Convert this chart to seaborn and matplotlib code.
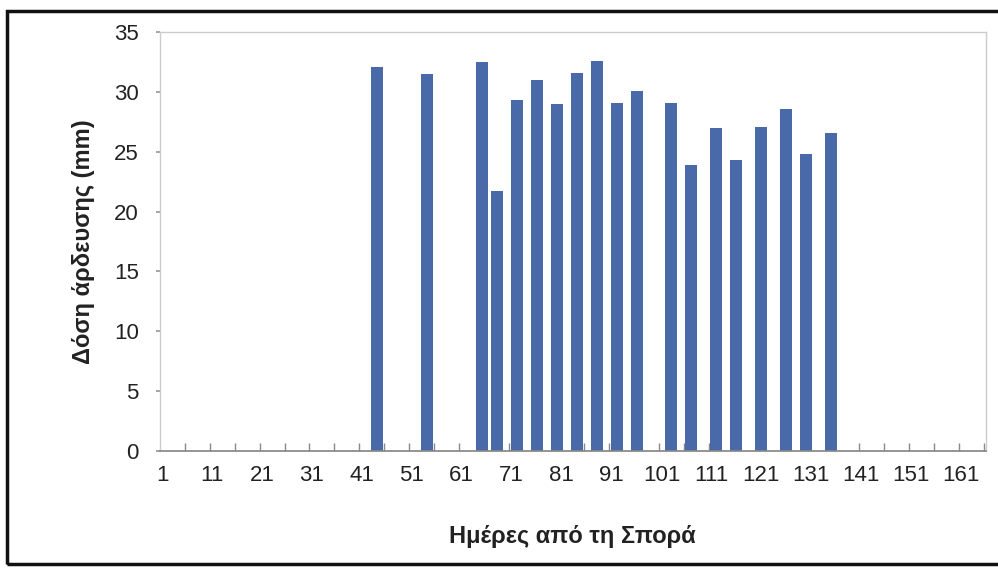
import matplotlib
matplotlib.use("Agg")
import matplotlib.pyplot as plt
from matplotlib.patches import Rectangle
import numpy as np
import pandas as pd
import seaborn as sns

# irrigation events: day after sowing and applied dose (mm)
days = [44, 54, 65, 68, 72, 76, 80, 84, 88, 92, 96, 103, 107, 112, 116, 121, 126, 130, 135]
dose = [32.1, 31.5, 32.5, 21.7, 29.3, 31.0, 29.0, 31.6, 32.6, 29.1, 30.1,
        29.1, 23.9, 27.0, 24.3, 27.1, 28.6, 24.8, 26.6]
tick_days = list(range(1, 162, 10))

df = pd.DataFrame({"day": days, "dose": dose})

sns.set_theme(style="white")
plt.rcParams["font.family"] = ["Liberation Sans", "DejaVu Sans"]

fig = plt.figure(figsize=(9.98, 5.69), dpi=100)
ax = fig.add_axes([0.160, 0.207, 0.828, 0.737])

bar_w = 2.4 / np.diff(sorted(days)).min()  # native-scale width -> ~2.4 days
sns.barplot(data=df, x="day", y="dose", native_scale=True, width=bar_w,
            color="#4A69A8", saturation=1, edgecolor="none", ax=ax)

ax.set_xlim(0.5, 166)
ax.set_ylim(0, 35)
ax.set_yticks(range(0, 36, 5))
ax.set_xticks(tick_days)
ax.set_xticklabels([str(d) for d in tick_days])
ax.set_xticks(np.arange(5.5, 166, 5), minor=True)

ax.tick_params(axis="x", which="major", length=0, pad=10, labelsize=16, colors="#222222")
ax.tick_params(axis="x", which="minor", length=6, direction="in", color="#888888", bottom=True)
ax.tick_params(axis="y", length=3, direction="out", color="#999999", pad=12,
               labelsize=16, colors="#222222", left=True)

for side in ["top", "right", "left"]:
    ax.spines[side].set_color("#cccccc")
    ax.spines[side].set_linewidth(1)
ax.spines["bottom"].set_color("#888888")

label_font = ["Liberation Sans Narrow", "Liberation Sans", "DejaVu Sans"]
ax.set_xlabel("Ημέρες από τη Σπορά", fontsize=17, fontweight="bold",
              family=label_font, labelpad=28, color="#222222")
ax.set_ylabel("Δόση άρδευσης (mm)", fontsize=17, fontweight="bold",
              family=label_font, labelpad=14, color="#222222")

# outer frame of the figure
fig.patches.append(Rectangle((0.007, 0.008), 1.1, 0.972, transform=fig.transFigure,
                             fill=False, edgecolor="#111111", linewidth=2.5))

fig.savefig("out.png", dpi=100)
